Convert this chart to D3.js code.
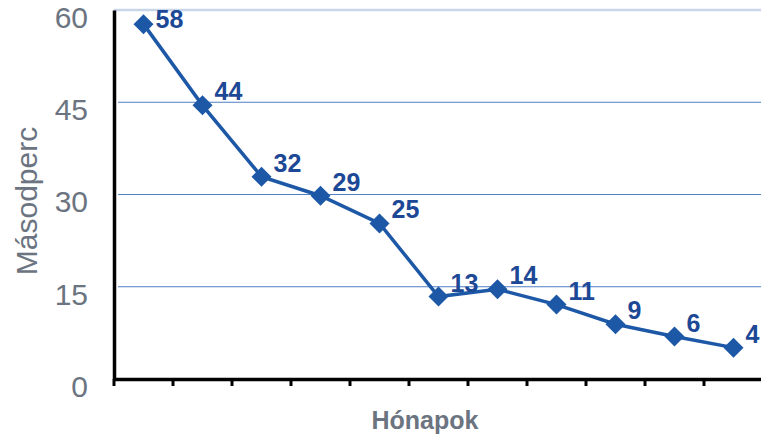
<!DOCTYPE html>
<html>
<head>
<meta charset="utf-8">
<script src="https://cdn.jsdelivr.net/npm/d3@7"></script>
<style>
  body { margin: 0; background: #fff; }
  svg { display: block; font-family: "Liberation Sans", Arial, sans-serif; }
</style>
</head>
<body>
<div id="chart"></div>
<script>
// months on the x axis (no tick labels in the original)
var months = [1, 2, 3, 4, 5, 6, 7, 8, 9, 10, 11];
// plotted values and the data labels as printed
var seconds = [57.7, 44.5, 32.9, 29.8, 25.3, 13.4, 14.6, 12.1, 8.9, 6.9, 5.1];
var pointLabels = ["58", "44", "32", "29", "25", "13", "14", "11", "9", "6", "4"];
var yTicks = [0, 15, 30, 45, 60];

var width = 761, height = 440;
var plotLeft = 114, plotRight = 763, plotTop = 10, plotBottom = 379;

var svg = d3.select('#chart')
  .append('svg')
  .attr('width', width)
  .attr('height', height);

var x = d3.scaleBand()
  .domain(months)
  .range([plotLeft, plotRight])
  .padding(0);

var y = d3.scaleLinear()
  .domain([0, 60])
  .range([plotBottom, plotTop]);

// gridlines
svg.append('g')
  .selectAll('line')
  .data(yTicks.filter(function (d) { return d > 0; }))
  .enter()
  .append('line')
  .attr('x1', function (d) { return d === 60 ? plotLeft : plotLeft + 4; })
  .attr('x2', width)
  .attr('y1', function (d) { return y(d); })
  .attr('y2', function (d) { return y(d); })
  .attr('stroke', function (d) { return d === 60 ? '#c9d6ea' : '#4f7fc4'; })
  .attr('stroke-width', function (d) { return d === 60 ? 2.5 : 1.2; });

// y axis
var yAxis = svg.append('g')
  .attr('transform', 'translate(' + plotLeft + ',0)')
  .call(d3.axisLeft(y).tickValues(yTicks).tickSize(0).tickPadding(26));
yAxis.select('.domain')
  .attr('stroke', '#000')
  .attr('stroke-width', 3.5);
yAxis.selectAll('text')
  .attr('font-size', 30)
  .attr('fill', '#6b7480')
  .attr('font-family', '"Liberation Sans", Arial, sans-serif')
  .attr('dy', '0.28em')
  .attr('transform', 'translate(0,9)');

// x axis, ticks at the band edges
var xAxis = svg.append('g')
  .attr('transform', 'translate(0,' + plotBottom + ')')
  .call(d3.axisBottom(x).tickSize(7).tickSizeOuter(0).tickFormat(''));
xAxis.selectAll('.tick')
  .attr('transform', function (d) { return 'translate(' + x(d) + ',0)'; });
xAxis.select('.domain')
  .attr('stroke', '#000')
  .attr('stroke-width', 3.5);
xAxis.selectAll('.tick line')
  .attr('stroke', '#000')
  .attr('stroke-width', 3);

// axis titles
svg.append('text')
  .attr('transform', 'translate(37,201) rotate(-90)')
  .attr('text-anchor', 'middle')
  .attr('font-size', 30)
  .attr('fill', '#6b7480')
  .text('Másodperc');

svg.append('text')
  .attr('x', 425)
  .attr('y', 429)
  .attr('text-anchor', 'middle')
  .attr('font-size', 25)
  .attr('font-weight', 'bold')
  .attr('fill', '#6b7480')
  .text('Hónapok');

var cx = function (d, i) { return x(months[i]) + x.bandwidth() / 2; };

var line = d3.line()
  .x(cx)
  .y(function (d) { return y(d); });

svg.append('path')
  .datum(seconds)
  .attr('d', line)
  .attr('fill', 'none')
  .attr('stroke', '#1d58a6')
  .attr('stroke-width', 3.5);

var diamond = d3.symbol().type(d3.symbolSquare).size(200);

svg.append('g')
  .selectAll('path')
  .data(seconds)
  .enter()
  .append('path')
  .attr('d', diamond)
  .attr('transform', function (d, i) {
    return 'translate(' + cx(d, i) + ',' + y(d) + ') rotate(45)';
  })
  .attr('fill', '#1d58a6');

svg.append('g')
  .selectAll('text')
  .data(seconds)
  .enter()
  .append('text')
  .attr('x', function (d, i) { return cx(d, i) + 12; })
  .attr('y', function (d) { return Math.max(y(d) - 5, 28); })
  .attr('font-size', 25)
  .attr('font-weight', 'bold')
  .attr('fill', '#1c4896')
  .text(function (d, i) { return pointLabels[i]; });
</script>
</body>
</html>
